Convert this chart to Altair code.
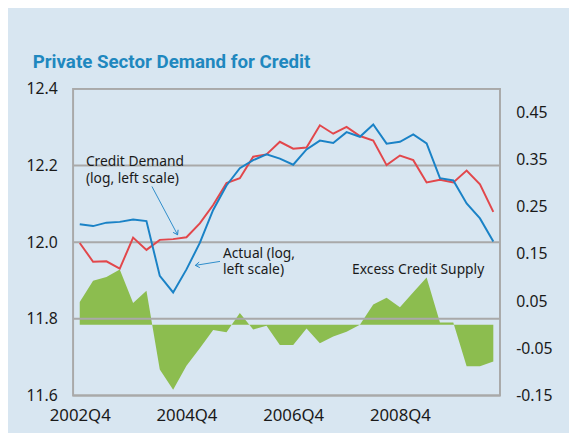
import altair as alt
import pandas as pd

quarters = [
    "2002Q4",
    "2003Q1", "2003Q2", "2003Q3", "2003Q4",
    "2004Q1", "2004Q2", "2004Q3", "2004Q4",
    "2005Q1", "2005Q2", "2005Q3", "2005Q4",
    "2006Q1", "2006Q2", "2006Q3", "2006Q4",
    "2007Q1", "2007Q2", "2007Q3", "2007Q4",
    "2008Q1", "2008Q2", "2008Q3", "2008Q4",
    "2009Q1", "2009Q2", "2009Q3", "2009Q4",
    "2010Q1", "2010Q2", "2010Q3",
]
actual = [12.047, 12.042, 12.051, 12.053, 12.059, 12.055, 11.912, 11.869,
          11.929, 11.998, 12.084, 12.148, 12.193, 12.214, 12.229, 12.218,
          12.202, 12.242, 12.265, 12.259, 12.287, 12.275, 12.307, 12.257,
          12.262, 12.281, 12.258, 12.167, 12.161, 12.101, 12.062, 12.002]
demand = [11.998, 11.949, 11.950, 11.931, 12.012, 11.980, 12.006, 12.008,
          12.013, 12.049, 12.097, 12.154, 12.167, 12.223, 12.229, 12.262,
          12.244, 12.247, 12.305, 12.283, 12.301, 12.277, 12.265, 12.201,
          12.226, 12.214, 12.156, 12.163, 12.156, 12.187, 12.151, 12.079]
excess = [0.048, 0.093, 0.101, 0.117, 0.046, 0.072, -0.095, -0.138,
          -0.087, -0.050, -0.011, -0.016, 0.025, -0.010, -0.002, -0.043,
          -0.043, -0.008, -0.039, -0.025, -0.015, 0.000, 0.043, 0.057,
          0.037, 0.069, 0.100, 0.005, 0.005, -0.088, -0.088, -0.078]

left_ticks = [11.6, 11.8, 12.0, 12.2, 12.4]
right_ticks = [-0.15, -0.05, 0.05, 0.15, 0.25, 0.35, 0.45]
x_ticks = ["2002Q4", "2004Q4", "2006Q4", "2008Q4"]

df = pd.DataFrame({"quarter": quarters, "actual": actual,
                   "demand": demand, "excess": excess})
grid_df = pd.DataFrame({"v": left_ticks})
one = pd.DataFrame({"a": [0]})

FONT = "Noto Sans"
BG = "#d8e6f1"
BLUE = "#1a82c6"
RED = "#e2474b"
GREEN = "#8cbd4f"
GRID = "#a9a9a9"

x_enc = alt.X(
    "quarter:O", sort=quarters,
    scale=alt.Scale(type="point", padding=0.5),
    axis=alt.Axis(values=x_ticks, labelAngle=0, labelFontSize=17, labelFont=FONT,
                  labelPadding=12, ticks=False, domain=False, grid=False,
                  title=None, labelColor="#1a1a1a"),
)

left_scale = alt.Scale(domain=[11.6, 12.4], nice=False, zero=False)
left_axis = alt.Axis(orient="left", values=left_ticks, format=".1f", labelFontSize=16,
                     labelFont=FONT, labelPadding=16, ticks=False, domain=False,
                     grid=False, title=None, labelColor="#1a1a1a", labelFlush=False)

area = alt.Chart(df).mark_area(color=GREEN, opacity=1).encode(
    x=x_enc,
    y=alt.Y("excess:Q",
            scale=alt.Scale(domain=[-0.15, 0.5], nice=False, zero=False),
            axis=alt.Axis(orient="right", values=right_ticks,
                          labelExpr="replace(format(datum.value, '.2f'), '\u2212', '-')",
                          labelAlign="left", labelPadding=16, labelFontSize=16,
                          labelFont=FONT, ticks=False, domain=False, grid=False,
                          title=None, labelColor="#1a1a1a", labelFlush=False)),
    y2=alt.datum(0),
)

rules = alt.Chart(grid_df).mark_rule(color=GRID, strokeWidth=2).encode(
    y=alt.Y("v:Q", scale=left_scale, axis=left_axis),
)

red_line = alt.Chart(df).mark_line(color=RED, strokeWidth=2).encode(
    x=x_enc,
    y=alt.Y("demand:Q", scale=left_scale, axis=left_axis),
)
blue_line = alt.Chart(df).mark_line(color=BLUE, strokeWidth=2).encode(
    x=x_enc,
    y=alt.Y("actual:Q", scale=left_scale, axis=left_axis),
)


def label(lines, x, y, lh=17):
    return alt.Chart(one).mark_text(
        align="left", baseline="alphabetic", font=FONT, fontSize=14,
        color="#1a1a1a", lineHeight=lh,
    ).encode(x=alt.value(x), y=alt.value(y), text=alt.value(lines))


def arrow(x1, y1, x2, y2, angle):
    seg = alt.Chart(one).mark_rule(color=BLUE, strokeWidth=0.9).encode(
        x=alt.value(x1), y=alt.value(y1), x2=alt.value(x2), y2=alt.value(y2))
    head = alt.Chart(one).mark_point(
        shape="M -0.6 0.9 L 0 0 L 0.6 0.9", filled=False, color=BLUE,
        strokeWidth=0.9, size=90, angle=angle, opacity=1,
    ).encode(x=alt.value(x2), y=alt.value(y2))
    return seg + head


title = alt.Chart(one).mark_text(
    align="left", baseline="alphabetic", font="Roboto", fontSize=19,
    fontWeight="bold", color="#1f88bf",
).encode(x=alt.value(-41), y=alt.value(-21),
         text=alt.value("Private Sector Demand for Credit"))

annotations = (
    label(["Credit Demand", "(log, left scale)"], 13, 78, 17)
    + arrow(80, 99, 106, 148, 152)
    + label(["Actual (log,", "left scale)"], 152, 172, 16)
    + arrow(149, 175, 124, 179, 263)
    + label("Excess Credit Supply", 283, 188)
    + title
)

inner = alt.layer(rules, red_line, blue_line, annotations)

chart = alt.layer(area, inner).resolve_scale(y="independent").properties(
    width=433, height=311,
    background=BG,
    autosize=alt.AutoSizeParams(type="none"),
    padding={"left": 66, "top": 79, "right": 70, "bottom": 35},
).configure_view(stroke=GRID, strokeWidth=2)

chart.save("out.html", embed_options={"renderer": "svg", "actions": False})
